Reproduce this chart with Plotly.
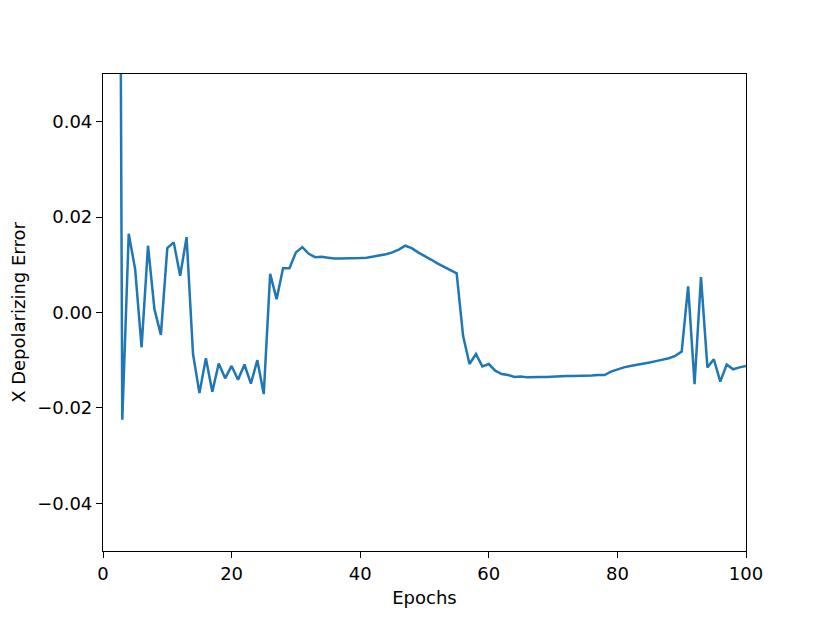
import plotly.graph_objects as go

# epochs 1..100
epochs = list(range(1, 101))

x_depol_error = [
    0.5, 0.3, -0.0225, 0.0165, 0.0091, -0.0073, 0.0140, 0.0007, -0.0047, 0.0135,
    0.0147, 0.0077, 0.0158, -0.0087, -0.0169, -0.0096, -0.0166, -0.0107, -0.0138, -0.0112,
    -0.0141, -0.0109, -0.0149, -0.0100, -0.0171, 0.0081, 0.0028, 0.0093, 0.0093, 0.0126,
    0.0137, 0.0123, 0.0116, 0.0117, 0.0115, 0.0113, 0.0113, 0.0113, 0.0114, 0.0114,
    0.0115, 0.0117, 0.0119, 0.0122, 0.0126, 0.0132, 0.0140, 0.0135, 0.0126, 0.0119,
    0.0111, 0.0103, 0.0096, 0.0088, 0.0082, -0.0049, -0.0108, -0.0087, -0.0113, -0.0108,
    -0.0122, -0.0129, -0.0131, -0.0135, -0.0134, -0.0136, -0.0135, -0.0135, -0.0135, -0.0134,
    -0.0134, -0.0133, -0.0133, -0.0133, -0.0132, -0.0132, -0.0131, -0.0131, -0.0124, -0.0119,
    -0.0115, -0.0112, -0.0110, -0.0107, -0.0105, -0.0102, -0.0099, -0.0096, -0.0091, -0.0082,
    0.0055, -0.0150, 0.0074, -0.0115, -0.0098, -0.0145, -0.0109, -0.0119, -0.0115, -0.0112,
]

x_ticks = [0, 20, 40, 60, 80, 100]
y_ticks = [-0.04, -0.02, 0.0, 0.02, 0.04]
y_tick_labels = ["\u22120.04", "\u22120.02", "0.00", "0.02", "0.04"]

FONT = dict(family='DejaVu Sans', size=18, color='black')

fig = go.Figure()

fig.add_trace(go.Scatter(
    x=epochs,
    y=x_depol_error,
    mode='lines',
    line=dict(color='#1f77b4', width=2.5),
    showlegend=False
))

axis_style = dict(
    showline=True,
    linecolor='black',
    linewidth=1.2,
    mirror=True,
    ticks='outside',
    ticklen=6,
    tickwidth=1.2,
    tickcolor='black',
    showgrid=False,
    zeroline=False,
    automargin=False,
    tickfont=FONT,
)

fig.update_xaxes(
    range=[0, 100],
    tickvals=x_ticks,
    title=dict(text='Epochs', font=FONT, standoff=8),
    **axis_style
)
fig.update_yaxes(
    range=[-0.05, 0.05],
    tickvals=y_ticks,
    ticktext=y_tick_labels,
    title=dict(text='X Depolarizing Error', font=FONT, standoff=8),
    **axis_style
)

# page body has an 8px margin, so shift the plot area back
fig.update_layout(
    width=830,
    height=623,
    margin=dict(l=95, r=92, t=66, b=80),
    plot_bgcolor='white',
    paper_bgcolor='white',
)

fig.write_html("out.html")
